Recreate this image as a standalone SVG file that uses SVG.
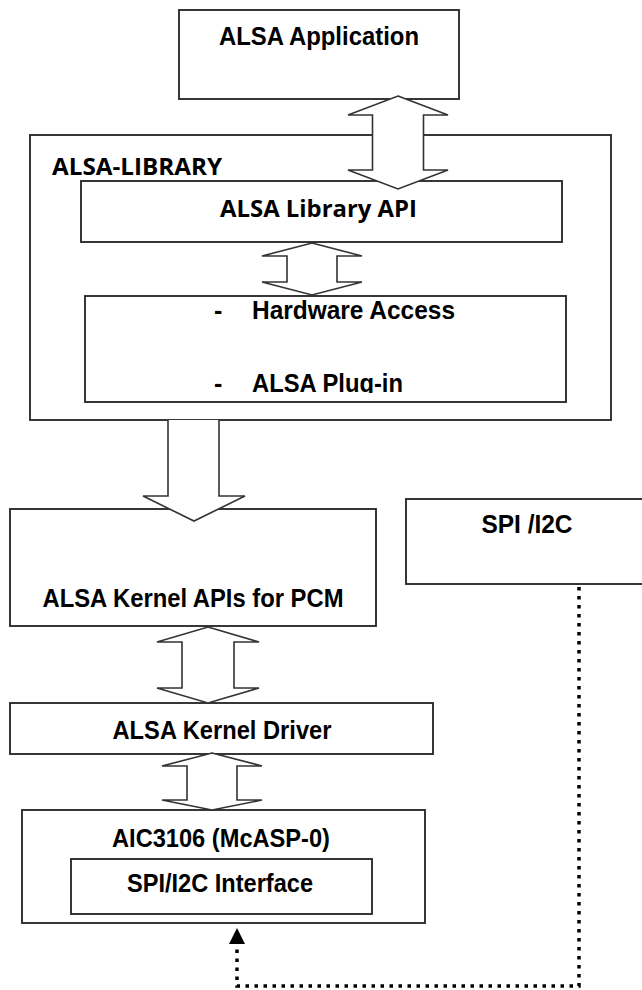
<svg xmlns="http://www.w3.org/2000/svg" width="642" height="990" viewBox="0 0 642 990">
<defs>
<style>
.box{fill:#fff;stroke:#222;stroke-width:1.8}
.t{font-family:"Liberation Sans Narrow","Liberation Sans",Arial,sans-serif;font-weight:bold;font-size:25px;fill:#000}
.c{font-family:"Open Sans","Liberation Sans",Arial,sans-serif;font-weight:bold;font-size:24px;fill:#000}
.arr{fill:#fff;stroke:#333;stroke-width:1.6;stroke-linejoin:miter}
.dot{fill:none;stroke:#000;stroke-width:3.5;stroke-dasharray:3.5 5.5}
</style>
<marker id="ah" viewBox="0 0 16 18" refX="2" refY="9" markerWidth="16" markerHeight="18" markerUnits="userSpaceOnUse" orient="auto">
<path d="M0,1 L16,9 L0,17 Z" fill="#000"/>
</marker>
<clipPath id="hwclip"><rect x="85" y="296" width="481" height="97"/></clipPath>
</defs>

<g id="alsa-application">
<rect class="box" x="179" y="10" width="280" height="89"/>
<text class="t" x="319" y="45" text-anchor="middle" textLength="200" lengthAdjust="spacingAndGlyphs">ALSA Application</text>
</g>

<g id="alsa-library">
<rect class="box" x="30" y="135" width="581" height="285"/>
<text class="c" x="52" y="175" textLength="170" lengthAdjust="spacingAndGlyphs">ALSA-LIBRARY</text>
</g>

<g id="alsa-library-api">
<rect class="box" x="81" y="181" width="481" height="61"/>
<text class="c" x="220" y="217" textLength="197" lengthAdjust="spacingAndGlyphs">ALSA Library API</text>
</g>

<g id="hardware-access">
<rect class="box" x="85" y="296" width="481" height="106"/>
<g clip-path="url(#hwclip)">
<text class="t" x="214" y="319">-</text>
<text class="t" x="252" y="319" textLength="203" lengthAdjust="spacingAndGlyphs">Hardware Access</text>
<text class="t" x="214" y="392">-</text>
<text class="t" x="252" y="392" textLength="151" lengthAdjust="spacingAndGlyphs">ALSA Plug-in</text>
</g>
</g>

<g id="kernel-apis">
<rect class="box" x="10" y="509" width="366" height="117"/>
<text class="t" x="193" y="607" text-anchor="middle" textLength="301" lengthAdjust="spacingAndGlyphs">ALSA Kernel APIs for PCM</text>
</g>

<g id="spi-i2c">
<rect class="box" x="406" y="499" width="244" height="85"/>
<text class="t" x="527" y="533" text-anchor="middle" textLength="91" lengthAdjust="spacingAndGlyphs">SPI /I2C</text>
</g>

<g id="kernel-driver">
<rect class="box" x="10" y="703" width="423" height="51"/>
<text class="t" x="222" y="739" text-anchor="middle" textLength="219" lengthAdjust="spacingAndGlyphs">ALSA Kernel Driver</text>
</g>

<g id="aic3106">
<rect class="box" x="22" y="810" width="403" height="113"/>
<text class="t" x="221" y="847" text-anchor="middle" textLength="218" lengthAdjust="spacingAndGlyphs">AIC3106 (McASP-0)</text>
</g>

<g id="spi-i2c-interface">
<rect class="box" x="71" y="859" width="301" height="55"/>
<text class="t" x="220" y="892" text-anchor="middle" textLength="186" lengthAdjust="spacingAndGlyphs">SPI/I2C Interface</text>
</g>

<g id="connectors">
<polygon class="arr" points="398,96 448,115 423.5,115 423.5,170 448,170 398,189 348,170 372.5,170 372.5,115 348,115"/>
<polygon class="arr" points="312,243 362,256 337,256 337,282 362,282 312,295 262,282 287,282 287,256 262,256"/>
<path class="arr" d="M168,420 V496 H143 L194,521 L245,496 H219 V420"/>
<polygon class="arr" points="208,627 259,642 234,642 234,688 259,688 208,703 157,688 182,688 182,642 157,642"/>
<polygon class="arr" points="212,753 262,766 237,766 237,800 262,800 212,810 162,800 187,800 187,766 162,766"/>
<path class="dot" d="M579,587 V986 H237 V942" marker-end="url(#ah)"/>
</g>
</svg>
